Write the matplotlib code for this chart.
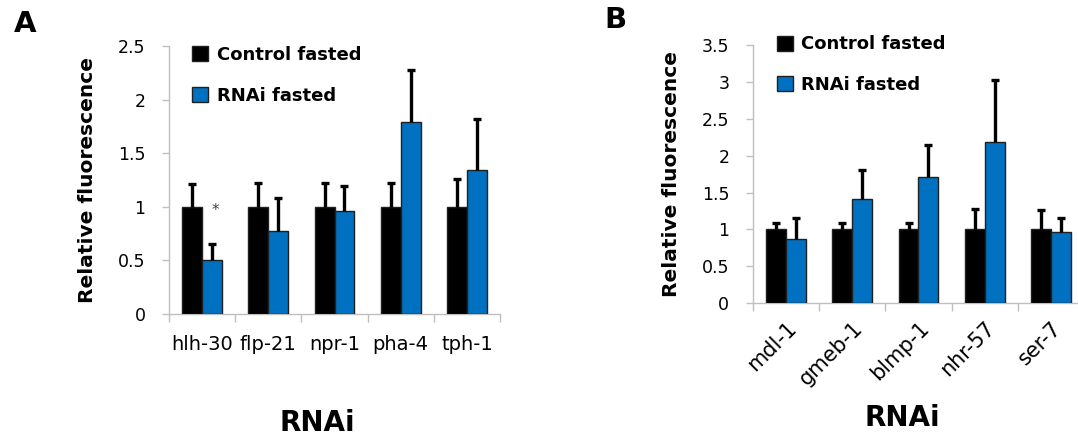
import numpy as np
import matplotlib.pyplot as plt

plt.rcParams['font.family'] = ['DejaVu Sans']

genes_a = ['hlh-30', 'flp-21', 'npr-1', 'pha-4', 'tph-1']
ctrl_a = [1.0, 1.0, 1.0, 1.0, 1.0]
ctrl_a_err = [0.21, 0.22, 0.22, 0.22, 0.26]
rnai_a = [0.50, 0.77, 0.96, 1.79, 1.34]
rnai_a_err = [0.15, 0.31, 0.23, 0.49, 0.48]

genes_b = ['mdl-1', 'gmeb-1', 'blmp-1', 'nhr-57', 'ser-7']
ctrl_b = [1.0, 1.0, 1.0, 1.0, 1.0]
ctrl_b_err = [0.08, 0.08, 0.08, 0.27, 0.26]
rnai_b = [0.87, 1.41, 1.71, 2.19, 0.97]
rnai_b_err = [0.28, 0.40, 0.44, 0.84, 0.18]

black = '#000000'
blue = '#0070C0'
grey = '#BFBFBF'
w = 0.3

fig = plt.figure(figsize=(10.78, 4.38), dpi=100)
ax_a = fig.add_axes([0.1568, 0.283, 0.307, 0.612])
ax_b = fig.add_axes([0.6985, 0.308, 0.307, 0.589])


def bars_with_err(ax, xpos, vals, errs, color, label):
    ax.bar(xpos, vals, w, color=color, edgecolor='#202020', linewidth=1,
           label=label, zorder=3)
    vals = np.array(vals)
    tops = vals + np.array(errs)
    # upper error only, cap at the top
    ax.vlines(xpos, vals, tops, color='black', linewidth=2.4, zorder=4)
    ax.plot(xpos, tops, linestyle='none', marker='_', markersize=6,
            markeredgewidth=2.4, color='black', zorder=4)


def draw(ax, genes, ctrl, ctrl_err, rnai, rnai_err, ymax, leg_xy):
    x = np.arange(len(genes))
    bars_with_err(ax, x - w / 2, ctrl, ctrl_err, black, 'Control fasted')
    bars_with_err(ax, x + w / 2, rnai, rnai_err, blue, 'RNAi fasted')
    ax.set_xlim(-0.5, len(genes) - 0.5)
    ax.set_ylim(0, ymax)
    ticks = np.arange(0, ymax + 0.001, 0.5)
    ax.set_yticks(ticks)
    ax.set_yticklabels(['%g' % t for t in ticks], fontsize=12.5)
    ax.set_xticks(np.arange(len(genes) + 1) - 0.5, minor=True)
    ax.set_xticks(x)
    ax.tick_params(axis='x', which='major', length=0, pad=15)
    ax.tick_params(axis='x', which='minor', length=6, color=grey, width=1)
    ax.tick_params(axis='y', length=5, color=grey, width=1, pad=12)
    for s in ['top', 'right']:
        ax.spines[s].set_visible(False)
    for s in ['left', 'bottom']:
        ax.spines[s].set_color(grey)
        ax.spines[s].set_linewidth(1)
    ax.set_ylabel('Relative fluorescence', fontsize=14.5, fontweight='bold')
    ax.yaxis.set_label_coords(-0.218, 0.5)
    ax.legend(loc='upper left', bbox_to_anchor=leg_xy, bbox_transform=fig.transFigure,
              borderaxespad=0, frameon=False,
              prop=dict(size=13, weight='bold'), handlelength=0.9,
              handleheight=0.9, handletextpad=0.45, labelspacing=1.25)


draw(ax_a, genes_a, ctrl_a, ctrl_a_err, rnai_a, rnai_a_err, 2.5, (0.1716, 0.911))
ax_a.set_xticklabels(genes_a, fontsize=14)
ax_a.text(0 + w / 2 + 0.05, 0.97, '*', ha='center', va='center', fontsize=11, color='#404040')

draw(ax_b, genes_b, ctrl_b, ctrl_b_err, rnai_b, rnai_b_err, 3.5, (0.714, 0.936))
ax_b.set_xticklabels(genes_b, fontsize=15, rotation=45, ha='right', rotation_mode='anchor')
ax_b.tick_params(axis='x', which='major', pad=11)

fig.text(0.294, 0.034, 'RNAi', ha='center', va='center', fontsize=20, fontweight='bold')
fig.text(0.837, 0.046, 'RNAi', ha='center', va='center', fontsize=20, fontweight='bold')
fig.text(0.023, 0.945, 'A', ha='center', va='center', fontsize=21, fontweight='bold')
fig.text(0.571, 0.955, 'B', ha='center', va='center', fontsize=21, fontweight='bold')

fig.savefig('out.png', dpi=100)
